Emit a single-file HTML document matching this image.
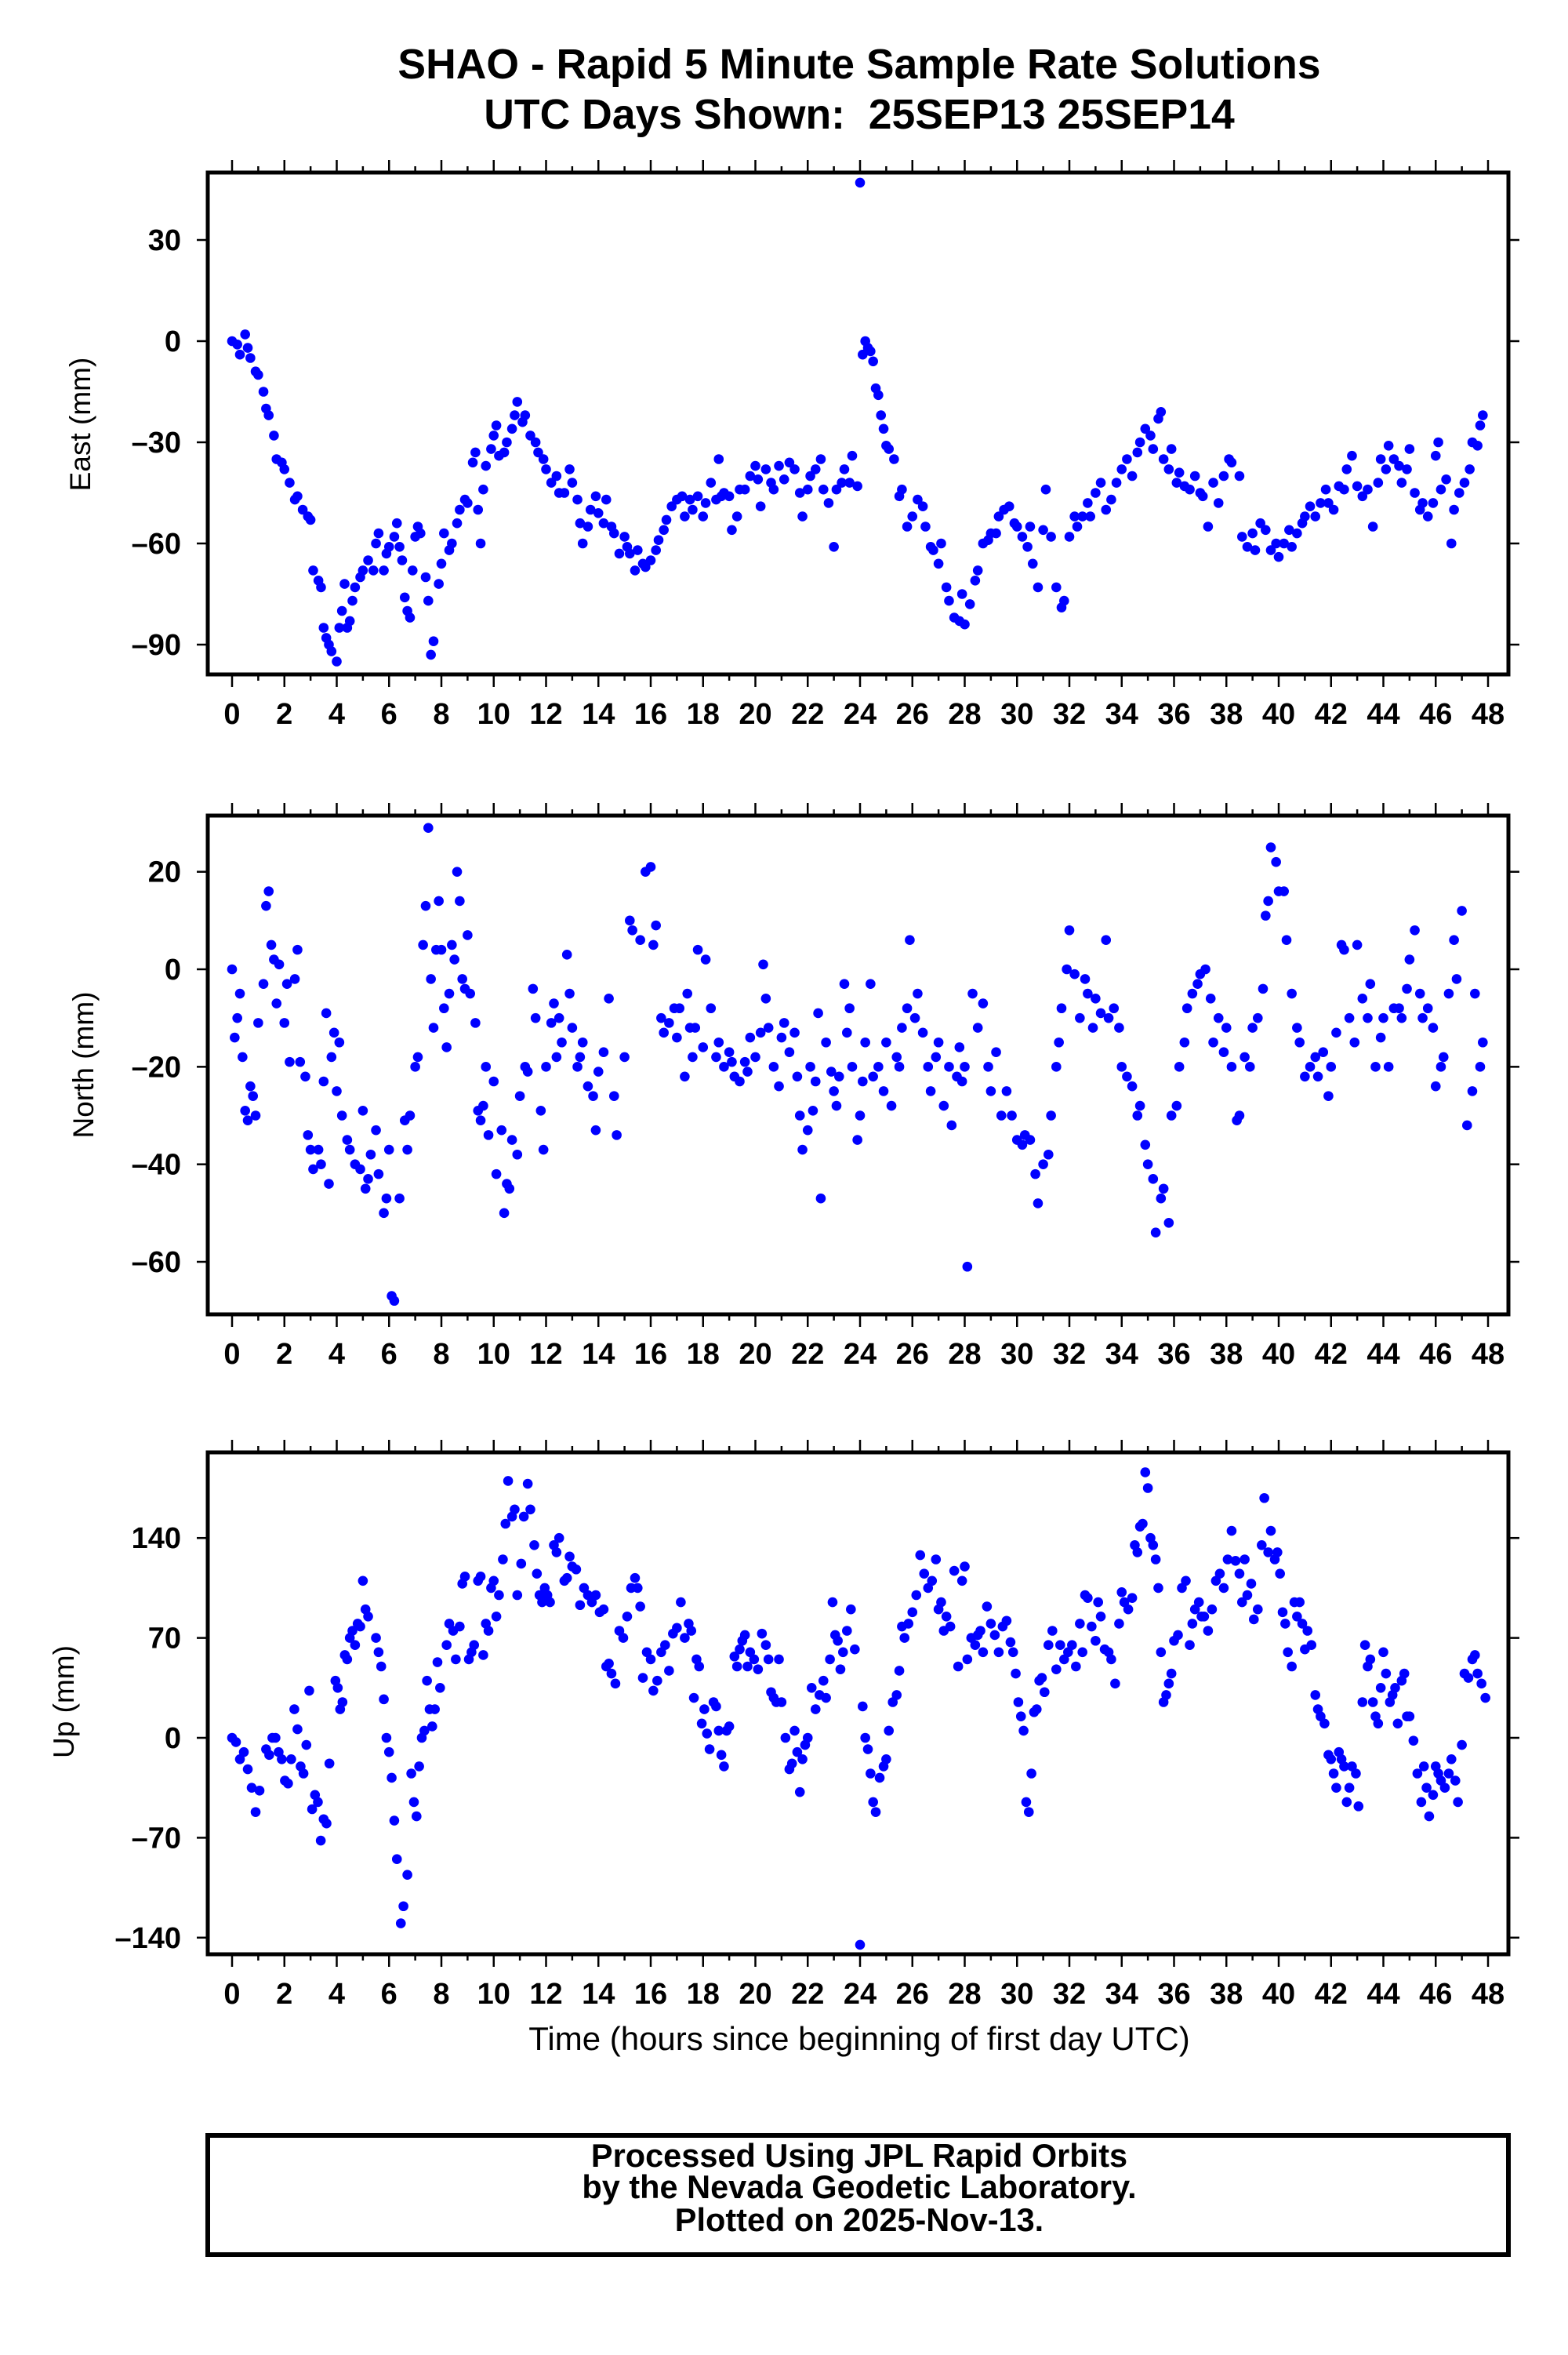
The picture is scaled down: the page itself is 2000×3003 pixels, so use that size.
<!DOCTYPE html>
<html><head><meta charset="utf-8"><style>
html,body{margin:0;padding:0;background:#fff;}
svg{display:block;font-family:"Liberation Sans",Arial,sans-serif;}
</style></head><body>
<svg id="fig" width="2000" height="3003" viewBox="0 0 2000 3003" xmlns="http://www.w3.org/2000/svg">
<text x="1096" y="100" text-anchor="middle" font-size="53.5" font-weight="bold">SHAO - Rapid 5 Minute Sample Rate Solutions</text>
<text x="1096" y="164" text-anchor="middle" font-size="53.5" font-weight="bold">UTC Days Shown:&#160; 25SEP13 25SEP14</text>
<g id="panels"></g>
<text x="1096" y="2614" text-anchor="middle" font-size="42">Time (hours since beginning of first day UTC)</text>
<rect x="265" y="2723" width="1659" height="152" fill="none" stroke="#000" stroke-width="6"/>
<text x="1096" y="2763" text-anchor="middle" font-size="41.5" font-weight="bold">Processed Using JPL Rapid Orbits</text>
<text x="1096" y="2803" text-anchor="middle" font-size="41.5" font-weight="bold">by the Nevada Geodetic Laboratory.</text>
<text x="1096" y="2845" text-anchor="middle" font-size="41.5" font-weight="bold">Plotted on 2025-Nov-13.</text>
</svg>
<script>
const xTicks=[0,2,4,6,8,10,12,14,16,18,20,22,24,26,28,30,32,34,36,38,40,42,44,46,48];
const eastTicks=[30,0,-30,-60,-90];
const northTicks=[20,0,-20,-40,-60];
const upTicks=[140,70,0,-70,-140];
const eastT=[0,0.2,0.3,0.5,0.6,0.7,0.9,1.0,1.2,1.3,1.4,1.6,1.7,1.9,2.0,2.2,2.4,2.5,2.7,2.9,3.0,3.1,3.3,3.4,3.5,3.6,3.7,3.8,4.0,4.1,4.2,4.3,4.4,4.5,4.6,4.7,4.9,5.0,5.2,5.4,5.5,5.6,5.8,5.9,6.0,6.2,6.3,6.4,6.5,6.6,6.7,6.8,6.9,7.0,7.1,7.2,7.4,7.5,7.6,7.7,7.9,8.0,8.1,8.3,8.4,8.6,8.7,8.9,9.0,9.2,9.3,9.4,9.5,9.6,9.7,9.9,10.0,10.1,10.2,10.4,10.5,10.7,10.8,10.9,11.1,11.2,11.4,11.6,11.7,11.9,12.0,12.2,12.4,12.5,12.7,12.9,13.0,13.2,13.3,13.4,13.6,13.7,13.9,14.0,14.2,14.3,14.5,14.6,14.8,15.0,15.1,15.2,15.4,15.5,15.7,15.8,16.0,16.2,16.3,16.5,16.6,16.8,17.0,17.2,17.3,17.5,17.6,17.8,18.0,18.1,18.3,18.5,18.6,18.7,18.8,19.0,19.1,19.3,19.4,19.6,19.8,20.0,20.1,20.2,20.4,20.6,20.7,20.9,21.1,21.3,21.5,21.7,21.8,22.0,22.1,22.3,22.5,22.6,22.8,23.0,23.1,23.3,23.4,23.6,23.7,23.9,24.0,24.1,24.2,24.3,24.4,24.5,24.6,24.7,24.8,24.9,25.0,25.1,25.3,25.5,25.6,25.8,26.0,26.2,26.4,26.5,26.7,26.8,27.0,27.1,27.3,27.4,27.6,27.8,27.9,28.0,28.2,28.4,28.5,28.7,28.9,29.0,29.2,29.3,29.5,29.7,29.9,30.0,30.2,30.4,30.5,30.6,30.8,31.0,31.1,31.3,31.5,31.7,31.8,32.0,32.2,32.3,32.5,32.7,32.8,33.0,33.2,33.4,33.6,33.8,34.0,34.2,34.4,34.6,34.7,34.9,35.1,35.2,35.4,35.5,35.6,35.8,35.9,36.1,36.2,36.4,36.6,36.8,37.0,37.1,37.3,37.5,37.7,37.9,38.1,38.2,38.5,38.6,38.8,39.0,39.1,39.3,39.5,39.7,39.9,40.0,40.2,40.4,40.5,40.7,40.9,41.0,41.2,41.4,41.6,41.8,41.9,42.1,42.3,42.5,42.6,42.8,43.0,43.2,43.4,43.6,43.8,43.9,44.1,44.2,44.4,44.6,44.7,44.9,45.0,45.2,45.4,45.5,45.7,45.9,46.0,46.1,46.2,46.4,46.6,46.7,46.9,47.1,47.3,47.4,47.6,47.7,47.8];
const eastV=[0,-1,-4,2,-2,-5,-9,-10,-15,-20,-22,-28,-35,-36,-38,-42,-47,-46,-50,-52,-53,-68,-71,-73,-85,-88,-90,-92,-95,-85,-80,-72,-85,-83,-77,-73,-70,-68,-65,-68,-60,-57,-68,-63,-61,-58,-54,-61,-65,-76,-80,-82,-68,-58,-55,-57,-70,-77,-93,-89,-72,-66,-57,-62,-60,-54,-50,-47,-48,-36,-33,-50,-60,-44,-37,-32,-28,-25,-34,-33,-30,-26,-22,-18,-24,-22,-28,-30,-33,-35,-38,-42,-40,-45,-45,-38,-42,-47,-54,-60,-55,-50,-46,-51,-54,-47,-55,-57,-63,-58,-61,-63,-68,-62,-66,-67,-65,-62,-59,-56,-53,-49,-47,-46,-52,-47,-50,-46,-52,-48,-42,-47,-35,-46,-45,-46,-56,-52,-44,-44,-40,-37,-41,-49,-38,-42,-44,-37,-41,-36,-38,-45,-52,-44,-40,-38,-35,-44,-48,-61,-44,-42,-38,-42,-34,-43,47,-4,0,-2,-3,-6,-14,-16,-22,-26,-31,-32,-35,-46,-44,-55,-52,-47,-49,-55,-61,-62,-66,-60,-73,-77,-82,-83,-75,-84,-78,-71,-68,-60,-59,-57,-57,-52,-50,-49,-54,-55,-58,-61,-55,-66,-73,-56,-44,-58,-73,-79,-77,-58,-52,-55,-52,-48,-52,-45,-42,-50,-47,-42,-38,-35,-40,-33,-30,-26,-28,-32,-23,-21,-35,-38,-32,-42,-39,-43,-44,-40,-45,-46,-55,-42,-48,-40,-35,-36,-40,-58,-61,-57,-62,-54,-56,-62,-60,-64,-60,-56,-61,-57,-54,-52,-49,-52,-48,-44,-48,-50,-43,-44,-38,-34,-43,-46,-44,-55,-42,-35,-38,-31,-35,-37,-42,-38,-32,-45,-50,-48,-52,-48,-34,-30,-44,-41,-60,-50,-45,-42,-38,-30,-31,-25,-22];
const northT=[0,0.1,0.2,0.3,0.4,0.5,0.6,0.7,0.8,0.9,1.0,1.2,1.3,1.4,1.5,1.6,1.7,1.8,2.0,2.1,2.2,2.4,2.5,2.6,2.8,2.9,3.0,3.1,3.3,3.4,3.5,3.6,3.7,3.8,3.9,4.0,4.1,4.2,4.4,4.5,4.7,4.9,5.0,5.1,5.2,5.3,5.5,5.6,5.8,5.9,6.0,6.1,6.2,6.4,6.6,6.7,6.8,7.0,7.1,7.3,7.4,7.5,7.6,7.7,7.8,7.9,8.0,8.1,8.2,8.3,8.4,8.5,8.6,8.7,8.8,8.9,9.0,9.1,9.3,9.4,9.5,9.6,9.7,9.8,10.0,10.1,10.3,10.4,10.5,10.6,10.7,10.9,11.0,11.2,11.3,11.5,11.6,11.8,11.9,12.0,12.2,12.3,12.4,12.5,12.6,12.8,12.9,13.0,13.2,13.3,13.4,13.6,13.8,13.9,14.0,14.2,14.4,14.6,14.7,15.0,15.2,15.3,15.6,15.8,16.0,16.1,16.2,16.4,16.5,16.7,16.9,17.0,17.1,17.3,17.4,17.5,17.6,17.7,17.8,18.0,18.1,18.3,18.5,18.6,18.8,19.0,19.1,19.2,19.4,19.6,19.7,19.8,20.0,20.2,20.3,20.4,20.5,20.7,20.9,21.0,21.1,21.3,21.5,21.6,21.7,21.8,22.0,22.1,22.2,22.3,22.4,22.5,22.7,22.9,23.0,23.1,23.2,23.4,23.5,23.6,23.7,23.9,24.0,24.1,24.2,24.4,24.5,24.7,24.9,25.0,25.2,25.4,25.5,25.6,25.8,25.9,26.1,26.2,26.4,26.6,26.7,26.9,27.0,27.2,27.4,27.5,27.7,27.8,27.9,28.0,28.1,28.3,28.5,28.7,28.9,29.0,29.2,29.4,29.6,29.8,30.0,30.2,30.3,30.5,30.7,30.8,31.0,31.2,31.3,31.5,31.6,31.7,31.9,32.0,32.2,32.4,32.6,32.7,32.9,33.0,33.2,33.4,33.5,33.7,33.9,34.0,34.2,34.4,34.6,34.7,34.9,35.0,35.2,35.3,35.5,35.6,35.8,35.9,36.1,36.2,36.4,36.5,36.7,36.9,37.0,37.2,37.4,37.5,37.7,37.9,38.0,38.2,38.4,38.5,38.7,38.9,39.0,39.2,39.4,39.5,39.6,39.7,39.9,40.0,40.2,40.3,40.5,40.7,40.8,41.0,41.2,41.4,41.5,41.7,41.9,42.0,42.2,42.4,42.5,42.7,42.9,43.0,43.2,43.4,43.5,43.7,43.9,44.0,44.2,44.4,44.6,44.7,44.9,45.0,45.2,45.4,45.5,45.7,45.9,46.0,46.2,46.3,46.5,46.7,46.8,47.0,47.2,47.4,47.5,47.7,47.8];
const northV=[0,-14,-10,-5,-18,-29,-31,-24,-26,-30,-11,-3,13,16,5,2,-7,1,-11,-3,-19,-2,4,-19,-22,-34,-37,-41,-37,-40,-23,-9,-44,-18,-13,-25,-15,-30,-35,-37,-40,-41,-29,-45,-43,-38,-33,-42,-50,-47,-37,-67,-68,-47,-31,-37,-30,-20,-18,5,13,29,-2,-12,4,14,4,-8,-16,-5,5,2,20,14,-2,-4,7,-5,-11,-29,-31,-28,-20,-34,-23,-42,-33,-50,-44,-45,-35,-38,-26,-20,-21,-4,-10,-29,-37,-20,-11,-7,-18,-10,-15,3,-5,-12,-20,-18,-15,-24,-26,-33,-21,-17,-6,-26,-34,-18,10,8,6,20,21,5,9,-10,-13,-11,-8,-14,-8,-22,-5,-12,-18,-12,4,-16,2,-8,-18,-15,-20,-17,-19,-22,-23,-19,-21,-14,-18,-13,1,-6,-12,-20,-24,-14,-11,-17,-13,-22,-30,-37,-33,-20,-29,-23,-9,-47,-15,-21,-25,-28,-22,-3,-13,-8,-20,-35,-30,-23,-15,-3,-22,-20,-25,-15,-28,-18,-20,-12,-8,6,-10,-5,-13,-20,-25,-18,-15,-28,-20,-32,-22,-16,-23,-20,-61,-5,-12,-7,-20,-25,-17,-30,-25,-30,-35,-36,-34,-35,-42,-48,-40,-38,-30,-20,-15,-8,0,8,-1,-10,-2,-5,-12,-6,-9,6,-10,-8,-12,-20,-22,-24,-30,-28,-36,-40,-43,-54,-47,-45,-52,-30,-28,-20,-15,-8,-5,-3,-1,0,-6,-15,-10,-17,-12,-20,-31,-30,-18,-20,-12,-10,-4,11,14,25,22,16,16,6,-5,-12,-15,-22,-20,-18,-22,-17,-26,-20,-13,5,4,-10,-15,5,-6,-10,-3,-20,-14,-10,-20,-8,-8,-10,-4,2,8,-5,-10,-8,-12,-24,-20,-18,-5,6,-2,12,-32,-25,-5,-20,-15,-18,-16,-14];
const upT=[0,0.15,0.3,0.45,0.6,0.75,0.9,1.05,1.3,1.42,1.54,1.66,1.78,1.9,2.02,2.14,2.26,2.38,2.5,2.62,2.73,2.84,2.95,3.06,3.17,3.28,3.39,3.5,3.61,3.72,3.95,4.04,4.13,4.22,4.31,4.4,4.5,4.6,4.7,4.8,4.9,5.0,5.1,5.2,5.5,5.6,5.7,5.8,5.9,6.0,6.1,6.2,6.3,6.45,6.55,6.7,6.85,6.95,7.05,7.15,7.25,7.35,7.45,7.55,7.65,7.75,7.85,7.95,8.2,8.3,8.45,8.55,8.7,8.8,8.9,9.05,9.15,9.25,9.4,9.5,9.6,9.7,9.8,9.9,10.0,10.1,10.2,10.35,10.45,10.55,10.7,10.8,10.9,11.05,11.15,11.3,11.4,11.55,11.65,11.75,11.85,11.95,12.05,12.15,12.3,12.4,12.5,12.7,12.8,12.9,13.0,13.15,13.3,13.45,13.6,13.75,13.9,14.05,14.2,14.3,14.4,14.5,14.65,14.8,14.95,15.1,15.25,15.4,15.5,15.6,15.7,15.85,16.0,16.1,16.25,16.4,16.55,16.7,16.85,17.0,17.15,17.3,17.45,17.55,17.65,17.75,17.85,17.95,18.05,18.15,18.25,18.4,18.5,18.6,18.7,18.8,18.9,19.0,19.2,19.3,19.4,19.5,19.6,19.7,19.8,19.95,20.1,20.25,20.4,20.5,20.6,20.7,20.8,20.9,21.0,21.15,21.3,21.4,21.5,21.6,21.7,21.8,21.9,22.0,22.15,22.3,22.45,22.6,22.7,22.85,22.95,23.05,23.15,23.25,23.35,23.5,23.65,23.8,24.0,24.1,24.2,24.3,24.4,24.5,24.6,24.75,24.9,25.0,25.1,25.25,25.4,25.5,25.6,25.7,25.85,26.0,26.15,26.3,26.45,26.6,26.75,26.9,27.0,27.1,27.2,27.3,27.45,27.6,27.75,27.9,28.0,28.1,28.25,28.4,28.5,28.6,28.7,28.85,29.0,29.15,29.3,29.45,29.6,29.75,29.85,29.95,30.05,30.15,30.25,30.35,30.45,30.55,30.65,30.75,30.85,30.95,31.05,31.2,31.35,31.5,31.65,31.8,31.95,32.1,32.25,32.4,32.5,32.6,32.7,32.85,33.0,33.1,33.2,33.35,33.5,33.6,33.75,33.9,34.0,34.1,34.25,34.4,34.5,34.6,34.7,34.8,34.9,35.0,35.1,35.2,35.3,35.4,35.5,35.6,35.7,35.8,35.9,36.0,36.15,36.3,36.45,36.6,36.7,36.8,36.95,37.05,37.15,37.3,37.45,37.6,37.75,37.9,38.05,38.2,38.35,38.5,38.6,38.7,38.8,38.95,39.05,39.2,39.35,39.45,39.6,39.7,39.85,39.95,40.05,40.15,40.25,40.35,40.5,40.6,40.7,40.8,40.9,41.0,41.1,41.25,41.4,41.5,41.6,41.75,41.9,42.0,42.1,42.2,42.3,42.4,42.5,42.6,42.7,42.8,42.95,43.05,43.2,43.3,43.4,43.5,43.6,43.7,43.8,43.9,44.0,44.1,44.25,44.35,44.45,44.55,44.7,44.8,44.9,45.0,45.15,45.3,45.45,45.55,45.65,45.75,45.9,46.0,46.1,46.2,46.35,46.5,46.6,46.75,46.85,47.0,47.1,47.25,47.4,47.5,47.6,47.75,47.9];
const upV=[0,-3,-15,-10,-22,-35,-52,-37,-8,-12,0,0,-10,-15,-30,-32,-15,20,6,-20,-25,-5,33,-50,-40,-45,-72,-57,-60,-18,40,35,20,25,58,55,70,75,65,80,78,110,90,85,70,60,50,27,0,-10,-28,-58,-85,-130,-118,-96,-25,-45,-55,-20,0,5,40,20,8,20,53,35,65,80,75,55,78,108,113,55,60,65,110,113,58,80,75,105,110,85,100,125,150,180,155,160,100,122,155,178,160,135,115,100,95,105,100,95,135,130,140,110,112,127,120,118,93,105,100,95,100,88,90,50,52,45,38,75,70,85,105,112,105,92,42,60,55,33,40,60,65,47,73,77,95,70,80,75,28,55,50,10,20,3,-8,25,22,5,-12,-20,5,8,57,50,62,68,72,50,60,55,48,73,65,55,32,28,25,55,25,0,-22,-18,5,-10,-38,-15,-5,0,35,20,30,40,28,55,95,72,68,48,60,75,90,62,-145,22,0,-8,-25,-45,-52,-28,-20,-15,5,25,30,47,78,70,80,88,100,128,115,105,110,125,90,95,75,85,78,117,50,110,120,55,70,65,72,75,60,92,80,72,60,78,82,67,60,45,25,15,5,-45,-52,-25,18,20,40,42,32,65,75,48,65,55,60,65,50,80,60,100,98,78,68,95,85,62,60,55,38,80,102,95,90,98,135,130,148,150,186,175,140,135,125,105,60,25,30,38,45,68,72,105,110,65,80,90,95,85,85,75,90,110,115,105,125,145,124,115,95,125,100,108,83,90,135,168,130,145,125,130,115,88,80,60,50,95,85,95,80,62,75,65,30,20,15,10,-12,-15,-25,-35,-10,-15,-20,-45,-35,-20,-25,-48,25,65,50,55,25,15,10,35,60,45,25,30,35,10,40,45,15,15,-2,-25,-45,-20,-35,-55,-40,-20,-25,-30,-35,-25,-15,-30,-45,-5,45,42,55,58,45,38,28];

const NS='http://www.w3.org/2000/svg';
const L=265,R=1924,X0=296,X1=1898;
function xScale(h){return X0+(h-0)*(X1-X0)/48;}
function mk(tag,attrs,parent){const e=document.createElementNS(NS,tag);for(const k in attrs)e.setAttribute(k,attrs[k]);parent.appendChild(e);return e;}
const root=document.getElementById('panels');
const panels=[
 {key:'east',top:220,bot:860,y0:435,ppm:4.3,ticks:eastTicks,T:eastT,V:eastV,label:'East (mm)',lx:115,ly:541,tickY:910},
 {key:'north',top:1040,bot:1676,y0:1236,ppm:6.217,ticks:northTicks,T:northT,V:northV,label:'North (mm)',lx:119,ly:1358,tickY:1726},
 {key:'up',top:1852,bot:2492,y0:2216,ppm:1.82,ticks:upTicks,T:upT,V:upV,label:'Up (mm)',lx:94,ly:2170,tickY:2542}
];
panels.forEach(p=>{
 const g=mk('g',{},root);
 
 
 const yScale=v=>p.y0-v*p.ppm;
 for(let h=0;h<=48;h++){
  const x=xScale(h);const len=(h%2===0)?16:8;
  mk('line',{x1:x,x2:x,y1:p.top,y2:p.top-len,stroke:'#000','stroke-width':2.5},g);
  mk('line',{x1:x,x2:x,y1:p.bot,y2:p.bot+len,stroke:'#000','stroke-width':2.5},g);
 }
 xTicks.forEach(h=>{
  const t=mk('text',{x:xScale(h),y:p.tickY+13,'text-anchor':'middle','font-size':38,'font-weight':'bold'},g);
  t.textContent=String(h);
  
  
 });
 p.ticks.forEach(v=>{
  const y=yScale(v);
  mk('line',{x1:L,x2:L-14,y1:y,y2:y,stroke:'#000','stroke-width':2.5},g);
  mk('line',{x1:R,x2:R+14,y1:y,y2:y,stroke:'#000','stroke-width':2.5},g);
  const t=mk('text',{x:231,y:y+13,'text-anchor':'end','font-size':38,'font-weight':'bold'},g);
  t.textContent=v<0?'\u2013'+Math.abs(v):String(v);
  
  
 });
 const yl=mk('text',{x:p.lx,y:p.ly,'text-anchor':'middle','font-size':37,transform:'rotate(-90 '+p.lx+' '+p.ly+')'},g);
 yl.textContent=p.label;
 
 
 const dots=mk('g',{fill:'#0000ff'},g);
 
 
 for(let i=0;i<p.T.length;i++){
  const c=mk('circle',{cx:xScale(p.T[i]),cy:yScale(p.V[i]),r:6.3},dots);
  
  
 }
 const fr=mk('rect',{x:L,y:p.top,width:R-L,height:p.bot-p.top,fill:'none',stroke:'#000','stroke-width':5},g);
 
 
});
</script>
</body></html>
